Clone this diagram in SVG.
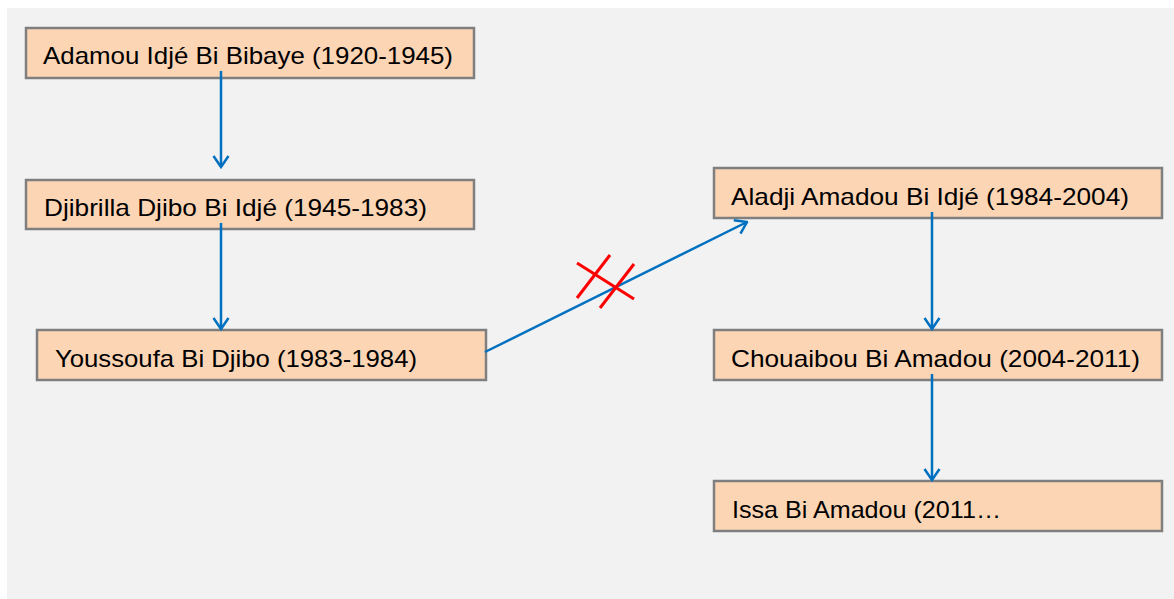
<svg xmlns="http://www.w3.org/2000/svg" width="1174" height="599" viewBox="0 0 1174 599">
<style>
.box{fill:#fcd5b5;stroke:#7f7f7f;stroke-width:2.5}
.lbl{font-family:"Liberation Sans","Open Sans",sans-serif;font-size:24px;fill:#000}
.con{stroke:#0070c0;stroke-width:2.5;fill:none}
.cross{stroke:#ff0000;stroke-width:3;fill:none}
</style>
<defs>
<marker id="arr" viewBox="0 0 14 18" refX="12.5" refY="9" markerWidth="14" markerHeight="18" markerUnits="userSpaceOnUse" orient="auto">
<path d="M1.5,1.5 L12.5,9 L1.5,16.5" fill="none" stroke="#0070c0" stroke-width="2.5"/>
</marker>
</defs>
<rect x="7" y="8" width="1167" height="591" fill="#f2f2f2"/>
<g id="n1"><rect class="box" x="26" y="28" width="448" height="50"/><text class="lbl" x="43" y="64" textLength="410" lengthAdjust="spacingAndGlyphs">Adamou Idjé Bi Bibaye (1920-1945)</text></g>
<g id="n2"><rect class="box" x="26" y="180" width="448" height="49"/><text class="lbl" x="44" y="216" textLength="383" lengthAdjust="spacingAndGlyphs">Djibrilla Djibo Bi Idjé (1945-1983)</text></g>
<g id="n3"><rect class="box" x="37" y="330" width="449" height="50"/><text class="lbl" x="55" y="367" textLength="362" lengthAdjust="spacingAndGlyphs">Youssoufa Bi Djibo (1983-1984)</text></g>
<g id="n4"><rect class="box" x="714" y="168" width="448" height="50"/><text class="lbl" x="731" y="205" textLength="398" lengthAdjust="spacingAndGlyphs">Aladji Amadou Bi Idjé (1984-2004)</text></g>
<g id="n5"><rect class="box" x="714" y="330" width="448" height="50"/><text class="lbl" x="731" y="367" textLength="409" lengthAdjust="spacingAndGlyphs">Chouaibou Bi Amadou (2004-2011)</text></g>
<g id="n6"><rect class="box" x="714" y="481" width="448" height="50"/><text class="lbl" x="732" y="518" textLength="269" lengthAdjust="spacingAndGlyphs">Issa Bi Amadou (2011…</text></g>
<g id="connectors">
<line class="con" x1="221" y1="71" x2="221" y2="167" marker-end="url(#arr)"/>
<line class="con" x1="221" y1="223" x2="221" y2="329" marker-end="url(#arr)"/>
<line class="con" x1="932" y1="212" x2="932" y2="329" marker-end="url(#arr)"/>
<line class="con" x1="932" y1="374" x2="932" y2="480" marker-end="url(#arr)"/>
<line class="con" x1="485" y1="352" x2="747" y2="222" marker-end="url(#arr)"/>
<g id="cross">
<line class="cross" x1="577" y1="263" x2="634" y2="299"/>
<line class="cross" x1="610" y1="255" x2="577" y2="298"/>
<line class="cross" x1="634" y1="264" x2="600" y2="308"/>
</g>
</g>
</svg>
